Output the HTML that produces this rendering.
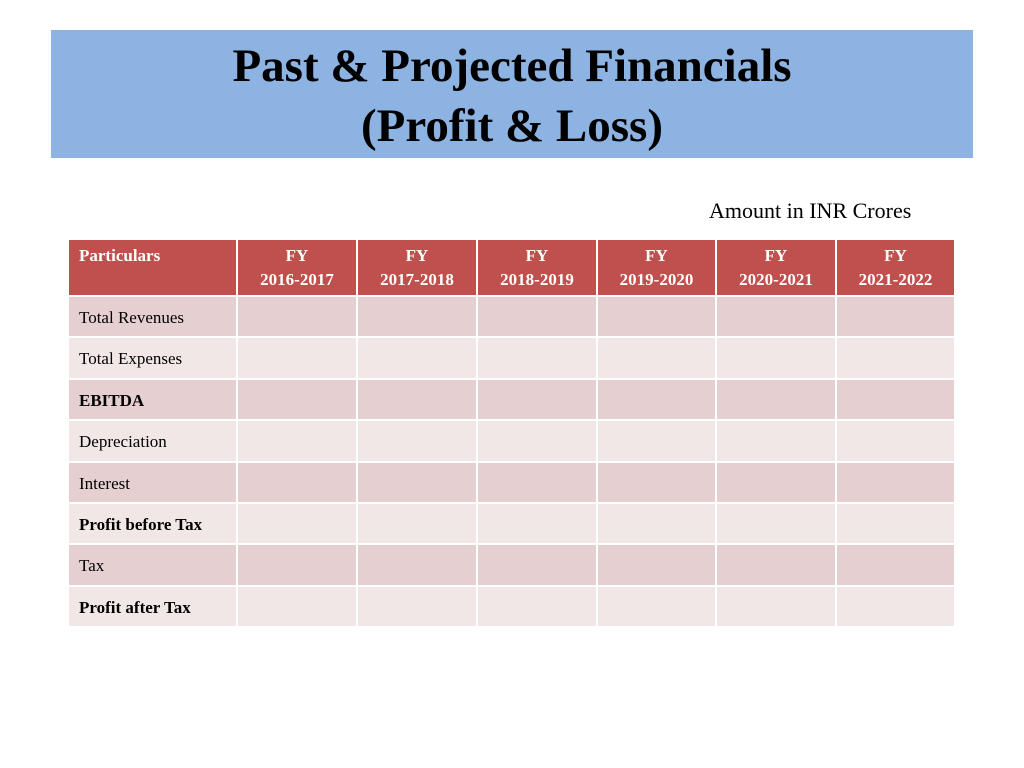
<!DOCTYPE html>
<html><head><meta charset="utf-8"><style>
body{margin:0;width:1024px;height:768px;background:#fff;position:relative;overflow:hidden;font-family:"Liberation Serif",serif}
#title{position:absolute;left:51px;top:30px;width:922px;height:128px;background:#8db3e2;text-align:center;font-weight:bold;font-size:47px;line-height:60px;color:#000;box-sizing:border-box;padding-top:6px}
#unit{position:absolute;left:709px;top:198px;font-size:22px}
.c{position:absolute;box-sizing:border-box;font-size:17px;color:#000}
.h{background:#c0504d;color:#fff;font-weight:bold;text-align:center;line-height:24px;padding-top:4px}
.o{background:#e6cfd0}.e{background:#f2e7e7}
.l{padding-left:10px;line-height:41px}
</style></head><body>
<div id="title">Past &amp; Projected Financials<br>(Profit &amp; Loss)</div>
<div id="unit">Amount in INR Crores</div>
<div id="tbl"></div>
<script>
const cols=[69,237,357,477,597,716,836,955];
const years=["2016-2017","2017-2018","2018-2019","2019-2020","2020-2021","2021-2022"];
const rows=[["Total Revenues",0],["Total Expenses",0],["EBITDA",1],["Depreciation",0],["Interest",0],["Profit before Tax",1],["Tax",0],["Profit after Tax",1]];
const t=document.getElementById('tbl');
function cell(x,y,w,h,cls,html,name){const d=document.createElement('div');d.className='c '+cls;d.style.left=x+'px';d.style.top=y+'px';d.style.width=w+'px';d.style.height=h+'px';d.innerHTML=html;


t.appendChild(d);}
for(let i=0;i<7;i++){const x=cols[i]+(i?1:0),w=cols[i+1]-x-1;
cell(x,240,w,55,'h',i?('FY<br>'+years[i-1]):'<div style="text-align:left;padding-left:10px">Particulars</div>',i?'header-fy-'+years[i-1]:'header-particulars');}
const rh=41.4;
rows.forEach((r,j)=>{const y=Math.round(297+j*rh),h=Math.round(297+(j+1)*rh)-y-2;const cls=j%2?'e':'o';
for(let i=0;i<7;i++){const x=cols[i]+(i?1:0),w=cols[i+1]-x-1;
cell(x,y,w,h,cls+(i?'':' l'),i?'':(r[1]?'<b>'+r[0]+'</b>':r[0]),i?'cell-'+j+'-'+i:'row-label-'+r[0].toLowerCase().replace(/ /g,'-'));}});
</script>
</body></html>
